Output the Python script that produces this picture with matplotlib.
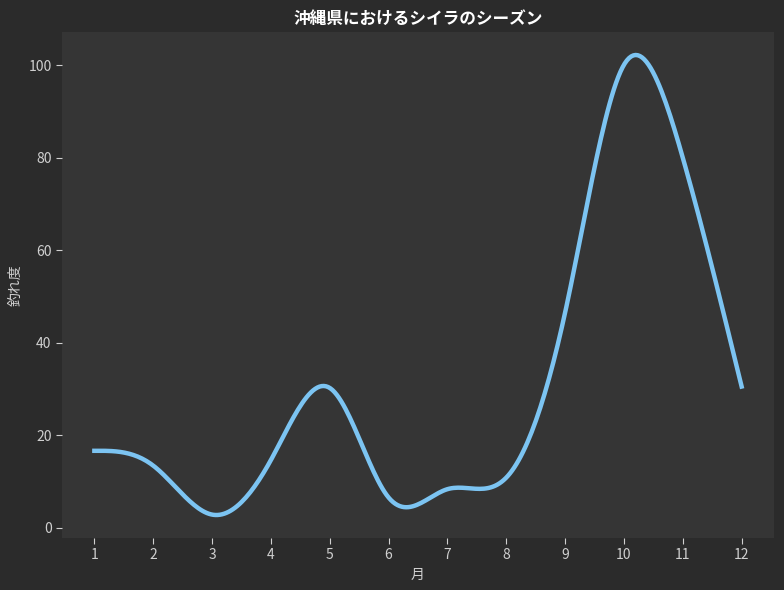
import numpy as np
import matplotlib
matplotlib.use("Agg")
import matplotlib.pyplot as plt

plt.rcParams['font.family'] = ['Noto Sans CJK JP', 'DejaVu Sans']

months = [1, 2, 3, 4, 5, 6, 7, 8, 9, 10, 11, 12]
catch_level = [16.6, 13.4, 2.8, 14.6, 30.2, 6.5, 8.3, 10.8, 46.5, 100.1, 80.0, 30.5]
title = "沖縄県におけるシイラのシーズン"
xlabel = "月"
ylabel = "釣れ度"


def natural_spline(x, y, n=300):
    x = np.asarray(x, float)
    y = np.asarray(y, float)
    m = len(x)
    h = np.diff(x)
    A = np.zeros((m, m))
    b = np.zeros(m)
    A[0, 0] = 1.0
    A[-1, -1] = 1.0
    for i in range(1, m - 1):
        A[i, i - 1] = h[i - 1]
        A[i, i] = 2 * (h[i - 1] + h[i])
        A[i, i + 1] = h[i]
        b[i] = 6 * ((y[i + 1] - y[i]) / h[i] - (y[i] - y[i - 1]) / h[i - 1])
    M = np.linalg.solve(A, b)
    xs = np.linspace(x[0], x[-1], n)
    idx = np.clip(np.searchsorted(x, xs) - 1, 0, m - 2)
    x0 = x[idx]; x1 = x[idx + 1]; hh = x1 - x0
    t0 = x1 - xs; t1 = xs - x0
    ys = (M[idx] * t0**3 / (6 * hh) + M[idx + 1] * t1**3 / (6 * hh)
          + (y[idx] / hh - M[idx] * hh / 6) * t0
          + (y[idx + 1] / hh - M[idx + 1] * hh / 6) * t1)
    return xs, ys


xs, ys = natural_spline(months, catch_level)

fig = plt.figure(figsize=(7.84, 5.9), dpi=100, facecolor='#2b2b2b')
ax = fig.add_axes([62 / 784, 1 - 538 / 590, (774 - 62) / 784, (538 - 32) / 590])
ax.set_facecolor('#353535')
ax.plot(xs, ys, color='#7cc4f2', linewidth=3.2)

ax.set_xticks(months)
for s in ax.spines.values():
    s.set_visible(False)
ax.tick_params(colors='#d0d0d0', labelsize=10, length=4)
ax.set_title(title, color='white', fontsize=12, fontweight='bold', pad=6)
ax.set_xlabel(xlabel, color='#d0d0d0', fontsize=10)
ax.set_ylabel(ylabel, color='#d0d0d0', fontsize=10)

fig.savefig("out.png", dpi=100, facecolor=fig.get_facecolor())
